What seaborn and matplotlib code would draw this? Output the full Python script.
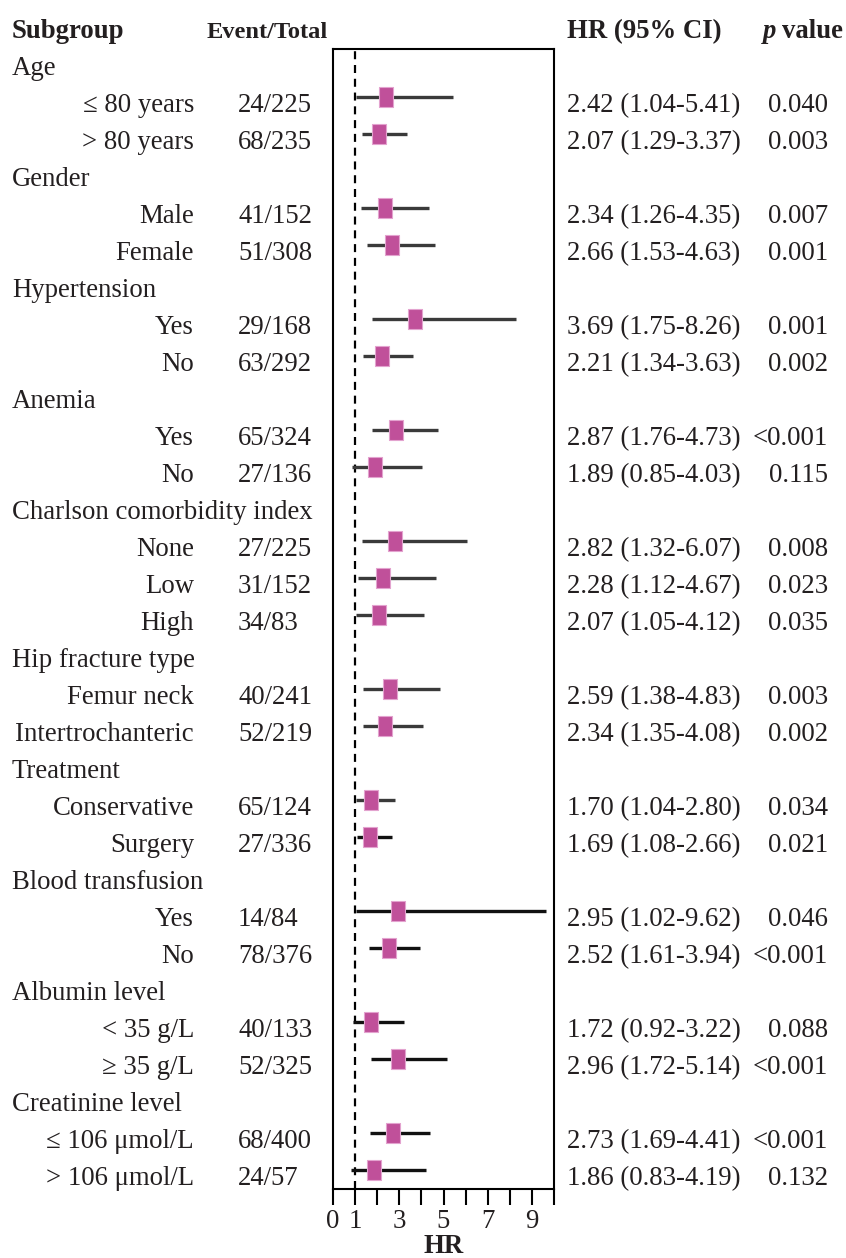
import matplotlib
matplotlib.use("Agg")
import matplotlib.pyplot as plt
import matplotlib.transforms as mtransforms
import numpy as np
import pandas as pd
import seaborn as sns

# ---------------- data ----------------
group_names = ["Age", "Gender", "Hypertension", "Anemia",
               "Charlson comorbidity index", "Hip fracture type", "Treatment",
               "Blood transfusion", "Albumin level", "Creatinine level"]
sub_labels = [["≤ 80 years", "> 80 years"], ["Male", "Female"], ["Yes", "No"],
              ["Yes", "No"], ["None", "Low", "High"],
              ["Femur neck", "Intertrochanteric"], ["Conservative", "Surgery"],
              ["Yes", "No"], ["< 35 g/L", "≥ 35 g/L"],
              ["≤ 106 μmol/L", "> 106 μmol/L"]]
events = ["24/225", "68/235", "41/152", "51/308", "29/168", "63/292", "65/324",
          "27/136", "27/225", "31/152", "34/83", "40/241", "52/219", "65/124",
          "27/336", "14/84", "78/376", "40/133", "52/325", "68/400", "24/57"]
hr = [2.42, 2.07, 2.34, 2.66, 3.69, 2.21, 2.87, 1.89, 2.82, 2.28, 2.07, 2.59,
      2.34, 1.70, 1.69, 2.95, 2.52, 1.72, 2.96, 2.73, 1.86]
ci_low = [1.04, 1.29, 1.26, 1.53, 1.75, 1.34, 1.76, 0.85, 1.32, 1.12, 1.05,
          1.38, 1.35, 1.04, 1.08, 1.02, 1.61, 0.92, 1.72, 1.69, 0.83]
ci_high = [5.41, 3.37, 4.35, 4.63, 8.26, 3.63, 4.73, 4.03, 6.07, 4.67, 4.12,
           4.83, 4.08, 2.80, 2.66, 9.62, 3.94, 3.22, 5.14, 4.41, 4.19]
p_values = ["0.040", "0.003", "0.007", "0.001", "0.001", "0.002", "<0.001",
            "0.115", "0.008", "0.023", "0.035", "0.003", "0.002", "0.034",
            "0.021", "0.046", "<0.001", "0.088", "<0.001", "<0.001", "0.132"]
x_ticks = list(range(0, 11))
x_tick_labels = ["0", "1", "", "3", "", "5", "", "7", "", "9", ""]

# ---------------- layout rows ----------------
group_rows = []
sub_rows = []
sub_names = []
r = 0
for g, subs in zip(group_names, sub_labels):
    group_rows.append(r)
    r += 1
    for s in subs:
        sub_rows.append(r)
        sub_names.append(s)
        r += 1

df = pd.DataFrame({"row": sub_rows, "label": sub_names, "events": events,
                   "hr": hr, "lo": ci_low, "hi": ci_high, "p": p_values})

# ---------------- style ----------------
sns.set_style("white")
FONT = ["Liberation Serif", "DejaVu Serif"]
plt.rcParams["font.family"] = FONT
TXT = "#231F20"
FS = 19.3

W, H = 846, 1258
fig = plt.figure(figsize=(W / 100, H / 100), dpi=100)
ax_l, ax_r, ax_t, ax_b = 333, 554, 49, 1189
ax = fig.add_axes([ax_l / W, 1 - ax_b / H, (ax_r - ax_l) / W, (ax_b - ax_t) / H])

row_px = 37.0
first_px = 60.0
ax.set_ylim((ax_b - first_px) / row_px, (ax_t - first_px) / row_px)
ax.set_xlim(0, 10)

# reference line
ax.axvline(1, color="black", lw=1.6, ls=(0, (3.6, 2.6)), zorder=1)

# CI lines
line_cols = ["#3A3A3A" if i < 14 else "#111111" for i in range(len(df))]
ax.hlines(df["row"], df["lo"], df["hi"], colors=line_cols, lw=2.4, zorder=2)

# point estimates
verts = [(-0.33, -0.5), (0.33, -0.5), (0.33, 0.5), (-0.33, 0.5), (-0.33, -0.5)]
sns.scatterplot(data=df, x="hr", y="row", marker=verts, s=205,
                color="#C0509A", edgecolor="#E3A3CF", linewidth=0.8,
                zorder=3, ax=ax, legend=False)

# axes styling
for sp in ax.spines.values():
    sp.set_visible(True)
    sp.set_color("black")
    sp.set_linewidth(1.5)
ax.set_yticks([])
ax.set_ylabel("")
ax.set_xticks(x_ticks)
ax.set_xticklabels(x_tick_labels)
ax.tick_params(axis="x", direction="out", length=11.5, width=1.5,
               labelsize=FS, pad=3, color="black", labelcolor=TXT,
               bottom=True)
ax.set_xlabel("HR", fontsize=FS, fontweight="bold", color=TXT, labelpad=0)

# ---------------- text columns ----------------
tr = mtransforms.blended_transform_factory(fig.transFigure, ax.transData)
off = 0.40  # baseline offset in rows


def put(xpx, row, s, ha="left", size=FS, **kw):
    ax.text(xpx / W, row + off, s, transform=tr, ha=ha, va="baseline",
            fontsize=size, color=TXT, clip_on=False, **kw)


# headers
put(12, -1, "Subgroup", fontweight="bold")
put(207, -1, "Event/Total", fontweight="bold", size=17.6)
put(567, -1, "HR (95% CI)", fontweight="bold")
put(763, -1, "p", fontweight="bold", fontstyle="italic")
put(782, -1, "value", fontweight="bold")

for g, rr in zip(group_names, group_rows):
    put(12, rr, g)

for _, d in df.iterrows():
    put(194, d["row"], d["label"], ha="right")
    put(238, d["row"], d["events"])
    put(567, d["row"], f"{d['hr']:.2f} ({d['lo']:.2f}-{d['hi']:.2f})")
    put(828, d["row"], d["p"], ha="right")

fig.savefig("out.png", dpi=100)
